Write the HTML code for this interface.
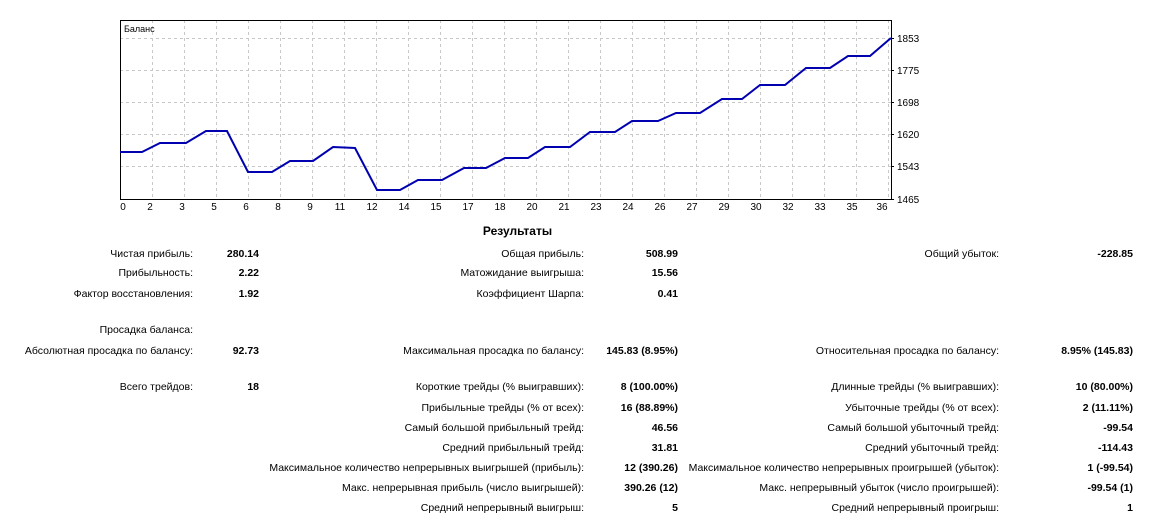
<!DOCTYPE html><html><head><meta charset="utf-8"><style>
body{margin:0;width:1158px;height:525px;background:#fff;position:relative;overflow:hidden;font-family:"Liberation Sans","DejaVu Sans",sans-serif;font-size:10.5px;color:#000}
.l,.v{position:absolute;white-space:nowrap;line-height:13px;text-align:right}
.v{font-weight:bold}
</style></head><body>
<svg width="1158" height="215" style="position:absolute;left:0;top:0" font-family="Liberation Sans, sans-serif" font-size="10">
<g stroke="#c8c8c8" stroke-dasharray="3,3" stroke-width="1">
<line x1="120" y1="38.5" x2="891" y2="38.5"/><line x1="120" y1="70.5" x2="891" y2="70.5"/><line x1="120" y1="102.5" x2="891" y2="102.5"/><line x1="120" y1="134.5" x2="891" y2="134.5"/><line x1="120" y1="166.5" x2="891" y2="166.5"/>
<line x1="152.5" y1="20" x2="152.5" y2="199"/><line x1="184.5" y1="20" x2="184.5" y2="199"/><line x1="216.5" y1="20" x2="216.5" y2="199"/><line x1="248.5" y1="20" x2="248.5" y2="199"/><line x1="280.5" y1="20" x2="280.5" y2="199"/><line x1="312.5" y1="20" x2="312.5" y2="199"/><line x1="344.5" y1="20" x2="344.5" y2="199"/><line x1="376.5" y1="20" x2="376.5" y2="199"/><line x1="408.5" y1="20" x2="408.5" y2="199"/><line x1="440.5" y1="20" x2="440.5" y2="199"/><line x1="472.5" y1="20" x2="472.5" y2="199"/><line x1="504.5" y1="20" x2="504.5" y2="199"/><line x1="536.5" y1="20" x2="536.5" y2="199"/><line x1="568.5" y1="20" x2="568.5" y2="199"/><line x1="600.5" y1="20" x2="600.5" y2="199"/><line x1="632.5" y1="20" x2="632.5" y2="199"/><line x1="664.5" y1="20" x2="664.5" y2="199"/><line x1="696.5" y1="20" x2="696.5" y2="199"/><line x1="728.5" y1="20" x2="728.5" y2="199"/><line x1="760.5" y1="20" x2="760.5" y2="199"/><line x1="792.5" y1="20" x2="792.5" y2="199"/><line x1="824.5" y1="20" x2="824.5" y2="199"/><line x1="856.5" y1="20" x2="856.5" y2="199"/><line x1="888.5" y1="20" x2="888.5" y2="199"/>
</g>
<rect x="120.5" y="20.5" width="771" height="179" fill="none" stroke="#000"/>
<g stroke="#000"><line x1="891" y1="38.5" x2="894" y2="38.5"/><line x1="891" y1="70.5" x2="894" y2="70.5"/><line x1="891" y1="102.5" x2="894" y2="102.5"/><line x1="891" y1="134.5" x2="894" y2="134.5"/><line x1="891" y1="166.5" x2="894" y2="166.5"/><line x1="891" y1="199.5" x2="894" y2="199.5"/></g>
<text x="124" y="32" font-size="9">Баланс</text>
<polyline fill="none" stroke="#0000b0" stroke-width="2" points="120,152 142,152 160,143 186,143 206,131 227,131 248,172 272,172 290,161 313,161 333,147 355,148 377,190 400,190 418,180 442,180 464,168 486,168 505,158 528,158 545,147 570,147 590,132 615,132 632,121 658,121 676,113 700,113 722,99 742,99 760,85 785,85 806,68 830,68 848,56 870,56 891,38"/>
<g font-size="10" text-anchor="start"><text x="897" y="42">1853</text><text x="897" y="74">1775</text><text x="897" y="106">1698</text><text x="897" y="138">1620</text><text x="897" y="170">1543</text><text x="897" y="203">1465</text></g>
<g font-size="10" text-anchor="middle">
<text x="123" y="210">0</text><text x="150" y="210">2</text><text x="182" y="210">3</text><text x="214" y="210">5</text><text x="246" y="210">6</text><text x="278" y="210">8</text><text x="310" y="210">9</text><text x="340" y="210">11</text><text x="372" y="210">12</text><text x="404" y="210">14</text><text x="436" y="210">15</text><text x="468" y="210">17</text><text x="500" y="210">18</text><text x="532" y="210">20</text><text x="564" y="210">21</text><text x="596" y="210">23</text><text x="628" y="210">24</text><text x="660" y="210">26</text><text x="692" y="210">27</text><text x="724" y="210">29</text><text x="756" y="210">30</text><text x="788" y="210">32</text><text x="820" y="210">33</text><text x="852" y="210">35</text><text x="882" y="210">36</text>
</g>
</svg>
<div class="v" style="left:0;width:1035px;text-align:center;top:225px;font-size:12px">Результаты</div>

<div class="l" style="right:965px;top:248px">Чистая прибыль:</div><div class="v" style="right:899px;top:248px">280.14</div>
<div class="l" style="right:965px;top:267px">Прибыльность:</div><div class="v" style="right:899px;top:267px">2.22</div>
<div class="l" style="right:965px;top:288px">Фактор восстановления:</div><div class="v" style="right:899px;top:288px">1.92</div>
<div class="l" style="right:965px;top:324px">Просадка баланса:</div>
<div class="l" style="right:965px;top:345px">Абсолютная просадка по балансу:</div><div class="v" style="right:899px;top:345px">92.73</div>
<div class="l" style="right:965px;top:381px">Всего трейдов:</div><div class="v" style="right:899px;top:381px">18</div>

<div class="l" style="right:574px;top:248px">Общая прибыль:</div><div class="v" style="right:480px;top:248px">508.99</div>
<div class="l" style="right:574px;top:267px">Матожидание выигрыша:</div><div class="v" style="right:480px;top:267px">15.56</div>
<div class="l" style="right:574px;top:288px">Коэффициент Шарпа:</div><div class="v" style="right:480px;top:288px">0.41</div>
<div class="l" style="right:574px;top:345px">Максимальная просадка по балансу:</div><div class="v" style="right:480px;top:345px">145.83 (8.95%)</div>
<div class="l" style="right:574px;top:381px">Короткие трейды (% выигравших):</div><div class="v" style="right:480px;top:381px">8 (100.00%)</div>
<div class="l" style="right:574px;top:402px">Прибыльные трейды (% от всех):</div><div class="v" style="right:480px;top:402px">16 (88.89%)</div>
<div class="l" style="right:574px;top:422px">Самый большой прибыльный трейд:</div><div class="v" style="right:480px;top:422px">46.56</div>
<div class="l" style="right:574px;top:442px">Средний прибыльный трейд:</div><div class="v" style="right:480px;top:442px">31.81</div>
<div class="l" style="right:574px;top:462px">Максимальное количество непрерывных выигрышей (прибыль):</div><div class="v" style="right:480px;top:462px">12 (390.26)</div>
<div class="l" style="right:574px;top:482px">Макс. непрерывная прибыль (число выигрышей):</div><div class="v" style="right:480px;top:482px">390.26 (12)</div>
<div class="l" style="right:574px;top:502px">Средний непрерывный выигрыш:</div><div class="v" style="right:480px;top:502px">5</div>

<div class="l" style="right:159px;top:248px">Общий убыток:</div><div class="v" style="right:25px;top:248px">-228.85</div>
<div class="l" style="right:159px;top:345px">Относительная просадка по балансу:</div><div class="v" style="right:25px;top:345px">8.95% (145.83)</div>
<div class="l" style="right:159px;top:381px">Длинные трейды (% выигравших):</div><div class="v" style="right:25px;top:381px">10 (80.00%)</div>
<div class="l" style="right:159px;top:402px">Убыточные трейды (% от всех):</div><div class="v" style="right:25px;top:402px">2 (11.11%)</div>
<div class="l" style="right:159px;top:422px">Самый большой убыточный трейд:</div><div class="v" style="right:25px;top:422px">-99.54</div>
<div class="l" style="right:159px;top:442px">Средний убыточный трейд:</div><div class="v" style="right:25px;top:442px">-114.43</div>
<div class="l" style="right:159px;top:462px">Максимальное количество непрерывных проигрышей (убыток):</div><div class="v" style="right:25px;top:462px">1 (-99.54)</div>
<div class="l" style="right:159px;top:482px">Макс. непрерывный убыток (число проигрышей):</div><div class="v" style="right:25px;top:482px">-99.54 (1)</div>
<div class="l" style="right:159px;top:502px">Средний непрерывный проигрыш:</div><div class="v" style="right:25px;top:502px">1</div>
</body></html>
